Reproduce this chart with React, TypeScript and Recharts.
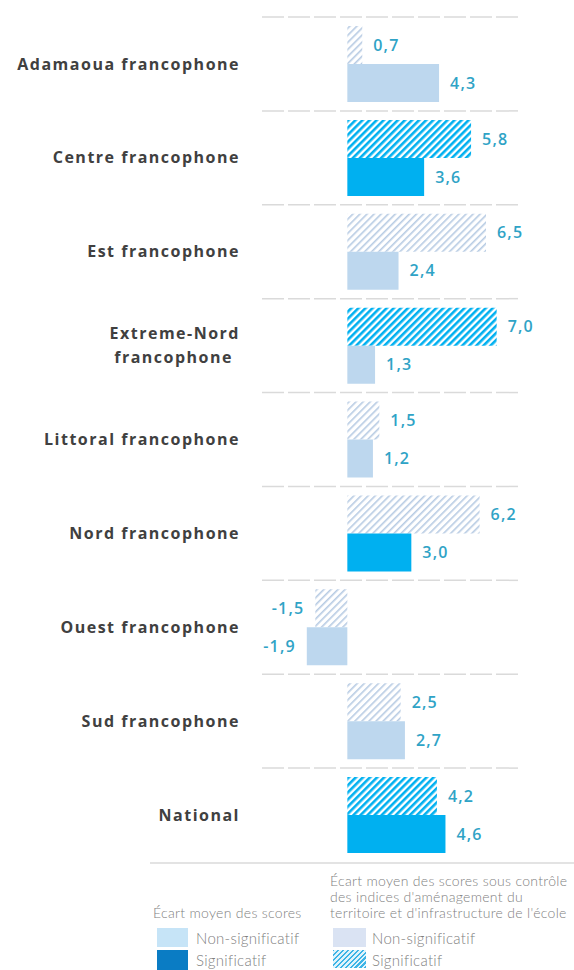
import React from 'react';
import { BarChart, Bar, XAxis, YAxis, Cell, LabelList, ReferenceLine } from 'recharts';

const REGIONS = [
  'Adamaoua francophone',
  'Centre francophone',
  'Est francophone',
  'Extreme-Nord francophone',
  'Littoral francophone',
  'Nord francophone',
  'Ouest francophone',
  'Sud francophone',
  'National',
];

// écart sous contrôle des indices (barres hachurées)
const CONTROLLED = [0.7, 5.8, 6.5, 7.0, 1.5, 6.2, -1.5, 2.5, 4.2];
const CONTROLLED_SIG = [false, true, false, true, false, false, false, false, true];

// écart moyen brut (barres pleines)
const RAW = [4.3, 3.6, 2.4, 1.3, 1.2, 3.0, -1.9, 2.7, 4.6];
const RAW_SIG = [false, true, false, false, false, true, false, false, true];

const data = REGIONS.map((name, i) => ({
  name,
  controlled: CONTROLLED[i],
  raw: RAW[i],
}));

const BLUE = '#00b0f0';
const LIGHT = '#bdd7ee';
const LABEL_COLOR = '#2fa3c6';

const fmt = (v: any) => String(v.toFixed(1)).replace('.', ',');

const RegionTick = (props: any) => {
  const { x, y, payload } = props;
  const label: string = payload.value;
  const style = { fontFamily: '"Open Sans", sans-serif', fontWeight: 700, fontSize: 16, fill: '#404040', letterSpacing: 1.5 };
  if (label.length > 22) {
    const idx = label.indexOf(' ');
    return (
      <g>
        <text x={x - 14} y={y - 12} dy="0.35em" textAnchor="end" style={style}>{label.slice(0, idx)}</text>
        <text x={x - 21} y={y + 12} dy="0.35em" textAnchor="end" style={style}>{label.slice(idx + 1)}</text>
      </g>
    );
  }
  return (
    <text x={x - 14} y={y} dy="0.35em" textAnchor="end" style={style}>{label}</text>
  );
};

const valueLabelStyle = { fill: LABEL_COLOR, fontFamily: '"Open Sans", sans-serif', fontSize: 16, fontWeight: 600, letterSpacing: 1.2 };

const legendText: React.CSSProperties = {
  position: 'absolute',
  fontFamily: 'Lato, sans-serif',
  fontWeight: 300,
  fontSize: 14,
  color: '#7f7f7f',
  letterSpacing: 0.3,
  whiteSpace: 'nowrap',
  lineHeight: '16px',
};

const swatchText: React.CSSProperties = { ...legendText, fontSize: 15 };

export default function App() {
  return (
    <div style={{ position: 'absolute', left: 0, top: 0, width: 574, height: 970, background: '#fff', overflow: 'hidden' }}>
      <div style={{ position: 'absolute', left: 0, top: 0, width: 560, height: 863, overflow: 'hidden' }}>
        <BarChart
          width={560}
          height={863}
          data={data}
          layout="vertical"
          margin={{ top: 17, right: 42, bottom: 1, left: 0 }}
          barSize={38}
          barGap={0}
        >
          <defs>
            <pattern id="hatchSig" patternUnits="userSpaceOnUse" width="5" height="5" patternTransform="rotate(45)">
              <rect width="5" height="5" fill="#fff" />
              <rect width="2.6" height="5" fill={BLUE} />
            </pattern>
            <pattern id="hatchLight" patternUnits="userSpaceOnUse" width="5" height="5" patternTransform="rotate(45)">
              <rect width="5" height="5" fill="#fff" />
              <rect width="1.6" height="5" fill="#b7cbe3" />
            </pattern>
          </defs>
          <XAxis type="number" domain={[-4, 8]} hide />
          <YAxis
            type="category"
            dataKey="name"
            width={262}
            axisLine={false}
            tickLine={false}
            interval={0}
            tick={<RegionTick />}
          />
          {REGIONS.map((r) => (
            <ReferenceLine key={r} y={r} position="start" stroke="#dadada" strokeWidth={1.5} strokeDasharray="22 4" />
          ))}
          <Bar dataKey="controlled" isAnimationActive={false}>
            {data.map((d, i) => (
              <Cell key={d.name} fill={CONTROLLED_SIG[i] ? 'url(#hatchSig)' : 'url(#hatchLight)'} />
            ))}
            <LabelList dataKey="controlled" position="right" offset={11} formatter={fmt} style={valueLabelStyle} />
          </Bar>
          <Bar dataKey="raw" isAnimationActive={false}>
            {data.map((d, i) => (
              <Cell key={d.name} fill={RAW_SIG[i] ? BLUE : LIGHT} />
            ))}
            <LabelList dataKey="raw" position="right" offset={11} formatter={fmt} style={valueLabelStyle} />
          </Bar>
        </BarChart>
      </div>

      {/* légende */}
      <div style={{ position: 'absolute', left: 150, top: 862, width: 424, height: 2, background: '#e3e3e3' }} />
      <div style={{ ...legendText, left: 330, top: 873 }}>
        Écart moyen des scores sous contrôle
        <br />
        des indices d'aménagement du
        <br />
        territoire et d'infrastructure de l'école
      </div>
      <div style={{ ...legendText, left: 153, top: 905 }}>Écart moyen des scores</div>

      <div style={{ position: 'absolute', left: 157, top: 928, width: 31, height: 19, background: '#c6e4f7' }} />
      <div style={{ ...swatchText, left: 196, top: 930 }}>Non-significatif</div>
      <div style={{ position: 'absolute', left: 157, top: 950, width: 31, height: 20, background: '#0a7cc4' }} />
      <div style={{ ...swatchText, left: 196, top: 952 }}>Significatif</div>

      <div style={{ position: 'absolute', left: 333, top: 928, width: 33, height: 19, background: '#dae3f3' }} />
      <div style={{ ...swatchText, left: 372, top: 930 }}>Non-significatif</div>
      <div
        style={{
          position: 'absolute',
          left: 333,
          top: 950,
          width: 33,
          height: 18,
          background: 'repeating-linear-gradient(-45deg, #3cb4e6 0px, #3cb4e6 1.5px, #dff3fb 1.5px, #dff3fb 3.5px)',
        }}
      />
      <div style={{ ...swatchText, left: 372, top: 952 }}>Significatif</div>
    </div>
  );
}
